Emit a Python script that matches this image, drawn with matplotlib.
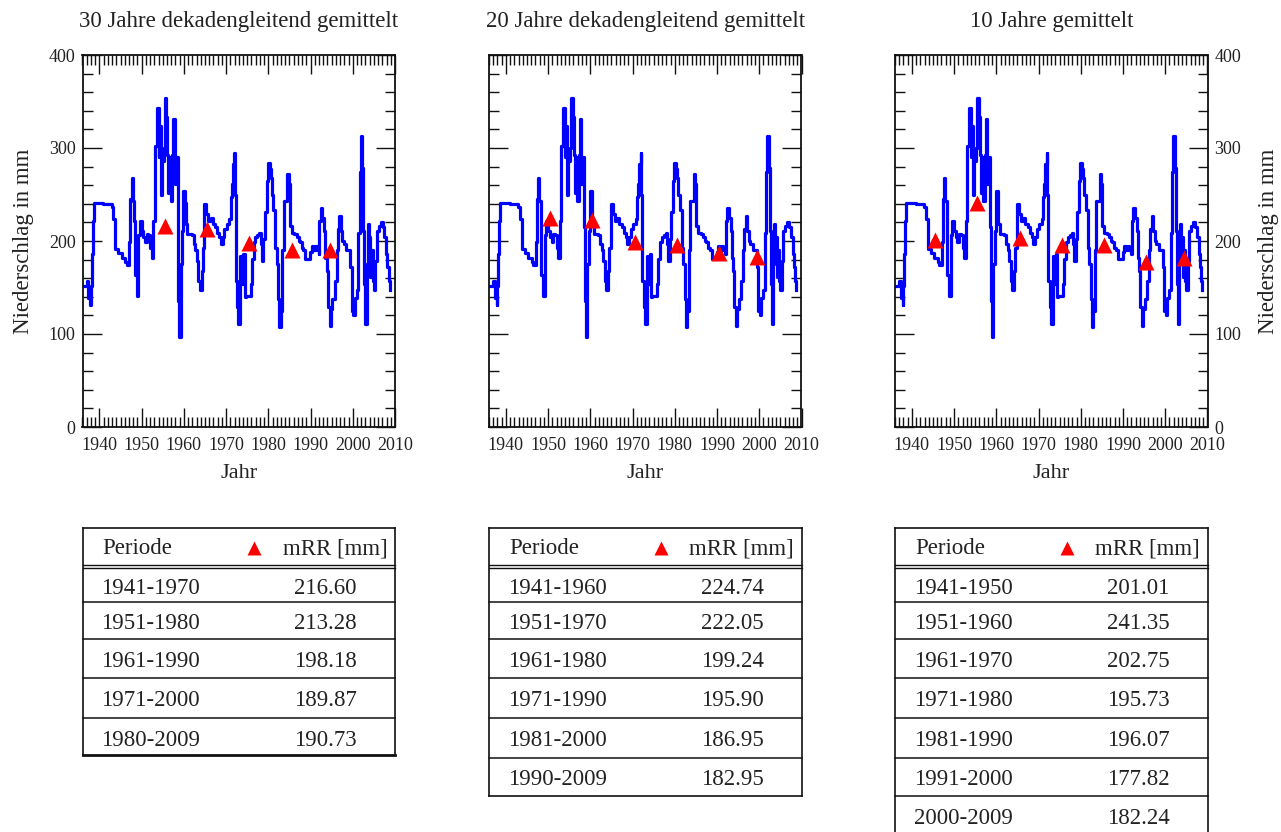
#!/usr/bin/env python3
"""Niederschlag: Zeitreihe mit 30/20/10-Jahres-Mitteln und Tabellen darunter."""

import matplotlib

matplotlib.use("Agg")
import matplotlib.pyplot as plt
from matplotlib.ticker import MultipleLocator

plt.rcParams["font.family"] = ["Liberation Serif", "DejaVu Serif"]
TXT = "#222222"

# step series (year where the value starts, mm)
years = [
    1936.05, 1937.0, 1937.4, 1937.8, 1938.0, 1938.2, 1938.4, 1938.7, 1940.9, 1942.9,
    1943.3, 1943.7, 1944.5, 1945.3, 1946.1, 1946.5, 1947.1, 1947.3, 1947.7, 1947.9,
    1948.2, 1948.4, 1948.8, 1949.2, 1949.6, 1950.0, 1950.4, 1950.8, 1951.2, 1951.6,
    1952.0, 1952.4, 1952.8, 1953.1, 1953.6, 1954.0, 1954.2, 1954.5, 1954.8, 1955.2,
    1955.5, 1955.8, 1956.1, 1956.3, 1956.6, 1956.9, 1957.2, 1957.5, 1957.8, 1958.2,
    1958.5, 1958.7, 1958.9, 1959.3, 1959.6, 1959.9, 1960.3, 1960.5, 1960.8, 1961.9,
    1962.3, 1962.7, 1963.0, 1963.4, 1963.8, 1964.2, 1964.5, 1964.8, 1965.3, 1965.8,
    1966.4, 1966.8, 1967.4, 1967.9, 1968.4, 1968.7, 1969.2, 1969.6, 1970.2, 1970.7,
    1971.1, 1971.4, 1971.6, 1971.9, 1972.1, 1972.3, 1972.7, 1972.9, 1973.3, 1973.7,
    1974.1, 1974.4, 1974.7, 1975.3, 1975.8, 1976.1, 1976.5, 1976.9, 1977.4, 1977.9,
    1978.2, 1978.5, 1978.8, 1979.2, 1979.6, 1979.9, 1980.3, 1980.6, 1980.8, 1981.2,
    1981.6, 1982.0, 1982.4, 1982.6, 1983.0, 1983.3, 1983.7, 1984.5, 1984.8, 1985.1,
    1985.6, 1986.1, 1986.7, 1987.2, 1987.5, 1987.9, 1988.3, 1988.7, 1989.9, 1990.3,
    1990.7, 1991.1, 1991.5, 1991.9, 1992.1, 1992.4, 1992.8, 1993.2, 1993.5, 1993.8,
    1994.1, 1994.5, 1994.8, 1995.2, 1995.7, 1996.2, 1996.5, 1996.8, 1997.1, 1997.5,
    1997.9, 1998.4, 1999.4, 1999.7, 2000.1, 2000.5, 2000.9, 2001.3, 2001.6, 2001.9,
    2002.2, 2002.5, 2002.7, 2003.0, 2003.3, 2003.5, 2003.8, 2004.1, 2004.4, 2004.7,
    2005.0, 2005.3, 2005.7, 2006.1, 2006.6, 2007.1, 2007.4, 2007.9, 2008.2, 2008.5,
    2008.8,
]
precip = [
    152, 157, 139, 131, 152, 186, 222, 241, 240, 237,
    224, 191, 187, 182, 177, 174, 199, 245, 268, 243,
    222, 163, 141, 206, 222, 211, 204, 199, 208, 206,
    193, 182, 222, 302, 343, 290, 324, 249, 286, 300,
    354, 333, 293, 252, 290, 243, 293, 331, 261, 290,
    215, 136, 97, 175, 211, 254, 241, 218, 208, 206,
    197, 190, 179, 157, 147, 168, 193, 240, 229, 222,
    225, 218, 215, 209, 204, 197, 204, 213, 218, 224,
    247, 261, 283, 295, 250, 157, 129, 111, 184, 154,
    186, 140, 141, 141, 154, 181, 199, 204, 206, 209,
    197, 179, 202, 231, 265, 284, 277, 268, 250, 233,
    193, 175, 138, 107, 125, 190, 243, 272, 261, 216,
    209, 208, 204, 200, 199, 193, 190, 181, 188, 195,
    190, 195, 190, 186, 222, 236, 225, 211, 182, 168,
    129, 109, 127, 138, 157, 190, 213, 227, 211, 200,
    197, 190, 172, 125, 120, 139, 147, 209, 274, 313,
    279, 211, 154, 111, 175, 218, 204, 161, 190, 157,
    147, 179, 211, 216, 220, 215, 204, 186, 172, 157,
    147,
]

titles = [
    "30 Jahre dekadengleitend gemittelt",
    "20 Jahre dekadengleitend gemittelt",
    "10 Jahre gemittelt",
]
periods_30 = ["1941-1970", "1951-1980", "1961-1990", "1971-2000", "1980-2009"]
mrr_30 = [216.60, 213.28, 198.18, 189.87, 190.73]
periods_20 = ["1941-1960", "1951-1970", "1961-1980", "1971-1990", "1981-2000", "1990-2009"]
mrr_20 = [224.74, 222.05, 199.24, 195.90, 186.95, 182.95]
periods_10 = ["1941-1950", "1951-1960", "1961-1970", "1971-1980", "1981-1990",
              "1991-2000", "2000-2009"]
mrr_10 = [201.01, 241.35, 202.75, 195.73, 196.07, 177.82, 182.24]

W, H = 1281, 832
fig = plt.figure(figsize=(W / 100, H / 100), dpi=100)

# overlay in pixel coordinates for the tables
ov = fig.add_axes([0, 0, 1, 1])
ov.set_xlim(0, W)
ov.set_ylim(H, 0)
ov.axis("off")

lefts = [82.5, 489, 895]
pw, top_px, bot_px = 312.5, 55, 427
row_edges = [568, 602, 638.5, 678, 717.5, 757.5, 796, 836]

groups = [(periods_30, mrr_30), (periods_20, mrr_20), (periods_10, mrr_10)]
for i, (left, title, (periods, mrr)) in enumerate(zip(lefts, titles, groups)):
    ax = fig.add_axes([left / W, (H - bot_px) / H, pw / W, (bot_px - top_px) / H])
    ax.plot(years, precip, drawstyle="steps-post", color="#0000ff", lw=2.3, zorder=2)
    mids = [(int(p[:4]) + int(p[5:])) / 2 for p in periods]
    ax.plot(mids, mrr, "^", color="#ff0000", ms=11.5, mec="none", zorder=3)
    ax.set_xlim(1936, 2010)
    ax.set_ylim(0, 400)
    ax.xaxis.set_major_locator(MultipleLocator(10))
    ax.xaxis.set_minor_locator(MultipleLocator(1))
    ax.yaxis.set_major_locator(MultipleLocator(100))
    ax.yaxis.set_minor_locator(MultipleLocator(20))
    ax.tick_params(which="both", direction="in", top=True, right=True,
                   width=1.0, colors="#111111", labelcolor=TXT, labelsize=13)
    ax.tick_params(which="major", length=14)
    ax.tick_params(which="minor", length=7)
    ax.tick_params(axis="x", pad=7)
    for s in ax.spines.values():
        s.set_linewidth(1.3)
        s.set_color("#111111")
    if i == 0:
        ax.set_ylabel("Niederschlag in mm", fontsize=16.5, color=TXT)
        ax.yaxis.set_label_coords(-0.155, 0.5)
        ax.tick_params(axis="y", pad=5)
    elif i == 1:
        ax.tick_params(axis="y", labelleft=False)
    else:
        ax.tick_params(axis="y", labelleft=False, labelright=True, pad=5)
        ax.yaxis.set_label_position("right")
        ax.set_ylabel("Niederschlag in mm", fontsize=16.5, color=TXT, rotation=90)
        ax.yaxis.set_label_coords(1.163, 0.5)
    ax.set_xlabel("Jahr", fontsize=16, color=TXT)
    ax.xaxis.set_label_coords(0.5, -0.1)
    ax.text(0.5, 1.09, title, transform=ax.transAxes, ha="center", va="center",
            fontsize=16.5, color=TXT)

    # table below the panel
    right = left + pw
    n = len(periods)
    edges = row_edges[: n + 1]
    bottom = edges[-1] if i < 2 else H + 5
    if i == 0:
        bottom = 755
        edges = edges[:-1] + [bottom]
    lc = "#111111"
    ov.plot([left, right], [528, 528], color=lc, lw=1.2)
    ov.plot([left, right], [564.5, 564.5], color=lc, lw=1.0)
    ov.plot([left, right], [568, 568], color=lc, lw=1.0)
    for e in edges[1:-1]:
        ov.plot([left, right], [e, e], color=lc, lw=1.1)
    ov.plot([left, left], [528, bottom], color=lc, lw=1.2)
    ov.plot([right, right], [528, bottom], color=lc, lw=1.2)
    if i < 2:
        ov.plot([left, right], [bottom, bottom], color=lc, lw=2.0 if i == 0 else 1.2)
    ov.text(left + 20, 549, "Periode", ha="left", va="center", fontsize=16.5, color=TXT)
    ov.plot([left + 171.5], [548], "^", color="#ff0000", ms=10, mec="none")
    ov.text(left + 305, 549, "mRR [mm]", ha="right", va="center", fontsize=16.5, color=TXT)
    for k, (p, v) in enumerate(zip(periods, mrr)):
        yc = (row_edges[k] + row_edges[k + 1]) / 2 + 3
        ov.text(left + 19, yc, p, ha="left", va="center", fontsize=16.5, color=TXT)
        ov.text(left + 243, yc, f"{v:.2f}", ha="center", va="center", fontsize=16.5, color=TXT)

fig.savefig("out.png", dpi=100)
